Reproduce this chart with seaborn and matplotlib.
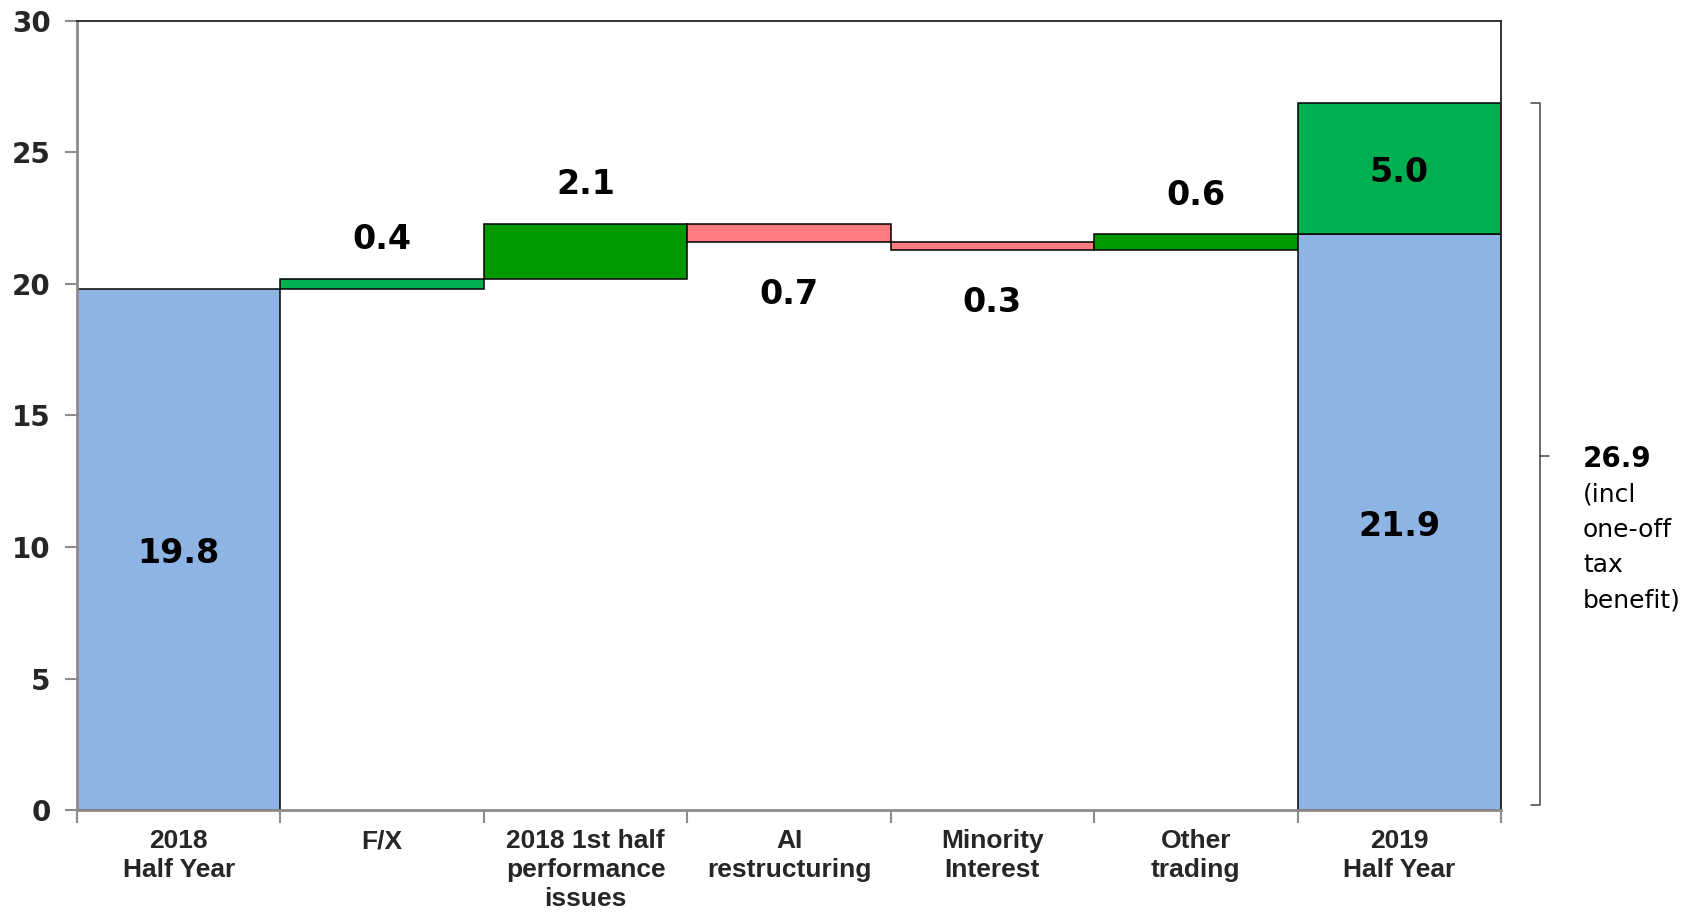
import numpy as np
import pandas as pd
import matplotlib
matplotlib.use("Agg")
import matplotlib.pyplot as plt
import matplotlib.transforms as mtransforms
import seaborn as sns

# ---- data -------------------------------------------------------------
categories = ["2018\nHalf Year", "F/X", "2018 1st half\nperformance\nissues",
              "AI\nrestructuring", "Minority\nInterest", "Other\ntrading",
              "2019\nHalf Year"]
opening = 19.8
changes = [0.4, 2.1, -0.7, -0.3, 0.6]
one_off_tax = 5.0
y_ticks = [0, 5, 10, 15, 20, 25, 30]
side_note = ["(incl", "one-off", "tax", "benefit)"]

# ---- colours ----------------------------------------------------------
BLUE = "#8EB4E3"
change_colors = ["#00B050", "#009900", "#FF7C80", "#FF7C80", "#009900"]
TAX_GREEN = "#00B050"

# running levels of the bridge
levels = opening + np.concatenate([[0.0], np.cumsum(changes)])
closing = round(float(levels[-1]), 1)
total = round(closing + one_off_tax, 1)

rows = [dict(cat=categories[0], bottom=0.0, height=opening, color=BLUE,
             label=f"{opening:.1f}", kind="total")]
for i, ch in enumerate(changes):
    lo = min(levels[i], levels[i + 1])
    rows.append(dict(cat=categories[i + 1], bottom=lo, height=abs(ch),
                     color=change_colors[i], label=f"{abs(ch):.1f}",
                     kind="up" if ch > 0 else "down"))
rows.append(dict(cat=categories[-1], bottom=0.0, height=closing, color=BLUE,
                 label=f"{closing:.1f}", kind="total"))
rows.append(dict(cat=categories[-1], bottom=closing, height=one_off_tax,
                 color=TAX_GREEN, label=f"{one_off_tax:.1f}", kind="total"))
segments = pd.DataFrame(rows)

# ---- figure -----------------------------------------------------------
sns.set_theme(style="white")
plt.rcParams["font.family"] = ["DejaVu Sans"]

fig = plt.figure(figsize=(16.83, 9.13), dpi=100)
ax = fig.add_axes([77 / 1683, 1 - 810 / 913, (1501 - 77) / 1683, (810 - 21) / 913])

for _, seg in segments.iterrows():
    sns.barplot(data=pd.DataFrame({"cat": [seg["cat"]], "value": [seg["height"]]}),
                x="cat", y="value", order=categories, bottom=seg["bottom"],
                color=seg["color"], saturation=1, width=1.0,
                edgecolor="black", linewidth=1.1, errorbar=None, ax=ax)

# value labels
for _, seg in segments.iterrows():
    x = categories.index(seg["cat"])
    kw = dict(ha="center", va="center", fontsize=24, fontweight="bold", color="black")
    if seg["kind"] == "total":
        ax.annotate(seg["label"], (x, seg["bottom"] + seg["height"] / 2),
                    xytext=(0, -3), textcoords="offset points", **kw)
    elif seg["kind"] == "up":
        ax.annotate(seg["label"], (x, seg["bottom"] + seg["height"]),
                    xytext=(0, 28), textcoords="offset points", **kw)
    else:
        ax.annotate(seg["label"], (x, seg["bottom"]),
                    xytext=(0, -38), textcoords="offset points", **kw)

# axes
ax.set_xlim(-0.5, len(categories) - 0.5)
ax.set_ylim(0, 30)
ax.set_xlabel("")
ax.set_ylabel("")
ax.set_yticks(y_ticks)
ax.set_yticklabels([str(t) for t in y_ticks], fontsize=20, fontweight="bold")
ax.set_xticks(range(len(categories)))
ax.set_xticklabels(categories, fontsize=19, fontweight="bold",
                   family=["Liberation Sans", "DejaVu Sans"],
                   linespacing=1.26)
ax.set_xticks(np.arange(-0.5, len(categories)), minor=True)
ax.tick_params(axis="x", which="major", length=0, pad=14)
ax.tick_params(axis="x", which="minor", length=9, width=1.5, color="#8c8c8c",
               direction="out", bottom=True)
ax.tick_params(axis="y", which="major", length=9, width=1.5, color="#8c8c8c",
               direction="out", left=True, pad=10)

for side in ("left", "bottom"):
    ax.spines[side].set_color("#8c8c8c")
    ax.spines[side].set_linewidth(2.0)
for side in ("top", "right"):
    ax.spines[side].set_color("#222222")
    ax.spines[side].set_linewidth(1.3)

# bracket around the 2019 total
trans = mtransforms.blended_transform_factory(ax.transAxes, ax.transData)
bx, bend, btick = 1.0274, 1.0211, 1.0337
ax.plot([bend, bx, bx, bend], [total, total, 0.2, 0.2], transform=trans,
        color="#444444", lw=1.1, clip_on=False)
ax.plot([bx, btick], [total / 2, total / 2], transform=trans,
        color="#444444", lw=1.1, clip_on=False)

ax.annotate(f"{total:.1f}", (1.0576, total / 2), xycoords=trans,
            xytext=(0, -2), textcoords="offset points",
            ha="left", va="center", fontsize=20, fontweight="bold", color="black")
for k, line in enumerate(side_note):
    ax.annotate(line, (1.0576, total / 2), xycoords=trans,
                xytext=(0, -2 - 25.5 * (k + 1)), textcoords="offset points",
                ha="left", va="center", fontsize=18, color="black")

fig.savefig("out.png", dpi=100)
